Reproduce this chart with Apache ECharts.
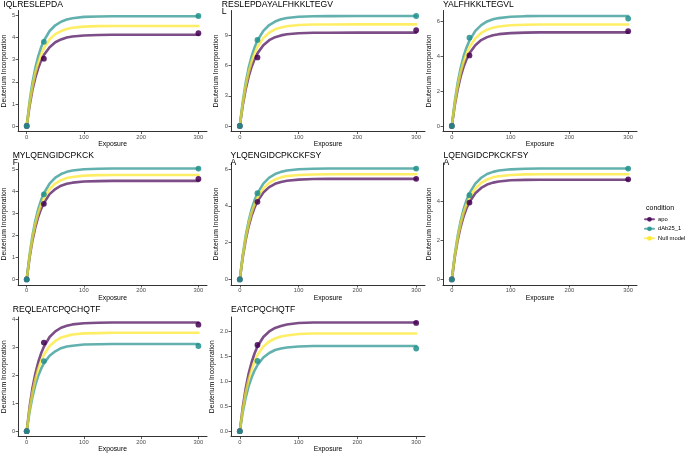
<!DOCTYPE html>
<html>
<head>
<meta charset="utf-8">
<script src="https://cdn.jsdelivr.net/npm/echarts@6/dist/echarts.min.js"></script>
<style>
html,body{margin:0;padding:0;background:#fff;}
#chart{width:685px;height:454px;}
</style>
</head>
<body>
<div id="chart"></div>
<script>
// ---------------- data ----------------
const panelTitles = [
  "IQLRESLEPDA",
  "RESLEPDAYALFHKKLTEGV\nL",
  "YALFHKKLTEGVL",
  "MYLQENGIDCPKCK\nF",
  "YLQENGIDCPKCKFSY\nA",
  "LQENGIDCPKCKFSY\nA",
  "REQLEATCPQCHQTF",
  "EATCPQCHQTF"
];
const conditions = ["apo", "dAb25_1", "Null model"];
const pointExposure = [0, 30, 300];
const apoPoints = [
  [0, 3.05, 4.20],
  [0, 6.83, 9.53],
  [0, 4.04, 5.43],
  [0, 3.43, 4.56],
  [0, 4.22, 5.47],
  [0, 3.93, 5.12],
  [0, 3.16, 3.80],
  [0, 1.72, 2.16]
];
const dAbPoints = [
  [0, 3.81, 4.98],
  [0, 8.57, 10.95],
  [0, 5.06, 6.15],
  [0, 3.86, 5.03],
  [0, 4.69, 6.03],
  [0, 4.31, 5.67],
  [0, 2.50, 3.04],
  [0, 1.40, 1.65]
];
const curveExposure = [0, 5, 10, 15, 20, 25, 30, 40, 50, 60, 70, 80, 100, 125, 150, 200, 300];
const apoCurve = [
  [0, 0.91, 1.63, 2.18, 2.61, 2.95, 3.21, 3.57, 3.79, 3.92, 4.01, 4.05, 4.10, 4.12, 4.13, 4.13, 4.13],
  [0, 2.06, 3.66, 4.91, 5.88, 6.64, 7.23, 8.04, 8.54, 8.84, 9.02, 9.13, 9.24, 9.28, 9.29, 9.30, 9.30],
  [0, 1.19, 2.11, 2.83, 3.39, 3.82, 4.16, 4.63, 4.92, 5.09, 5.20, 5.26, 5.32, 5.35, 5.36, 5.36, 5.36],
  [0, 0.99, 1.76, 2.36, 2.83, 3.19, 3.47, 3.87, 4.10, 4.25, 4.34, 4.39, 4.44, 4.46, 4.47, 4.47, 4.47],
  [0, 1.21, 2.15, 2.89, 3.46, 3.90, 4.25, 4.73, 5.02, 5.20, 5.30, 5.37, 5.43, 5.46, 5.47, 5.47, 5.47],
  [0, 1.13, 2.01, 2.69, 3.22, 3.64, 3.96, 4.41, 4.68, 4.85, 4.95, 5.01, 5.07, 5.09, 5.10, 5.10, 5.10],
  [0, 0.86, 1.53, 2.05, 2.45, 2.77, 3.01, 3.36, 3.56, 3.69, 3.76, 3.81, 3.85, 3.87, 3.88, 3.88, 3.88],
  [0, 0.48, 0.85, 1.15, 1.37, 1.55, 1.69, 1.88, 1.99, 2.06, 2.10, 2.13, 2.16, 2.17, 2.17, 2.17, 2.17]
];
const dAbCurve = [
  [0, 1.10, 1.96, 2.62, 3.14, 3.55, 3.86, 4.30, 4.56, 4.72, 4.82, 4.88, 4.94, 4.96, 4.97, 4.97, 4.97],
  [0, 2.42, 4.31, 5.78, 6.92, 7.81, 8.51, 9.47, 10.05, 10.40, 10.62, 10.75, 10.88, 10.93, 10.94, 10.95, 10.95],
  [0, 1.39, 2.48, 3.32, 3.98, 4.50, 4.89, 5.45, 5.78, 5.99, 6.11, 6.18, 6.26, 6.29, 6.30, 6.30, 6.30],
  [0, 1.11, 1.98, 2.65, 3.18, 3.59, 3.91, 4.35, 4.62, 4.78, 4.88, 4.94, 5.00, 5.02, 5.03, 5.03, 5.03],
  [0, 1.33, 2.37, 3.18, 3.81, 4.30, 4.68, 5.21, 5.54, 5.73, 5.85, 5.92, 5.99, 6.02, 6.03, 6.03, 6.03],
  [0, 1.25, 2.23, 2.99, 3.58, 4.05, 4.41, 4.90, 5.20, 5.39, 5.50, 5.57, 5.63, 5.66, 5.67, 5.67, 5.67],
  [0, 0.69, 1.22, 1.64, 1.97, 2.22, 2.42, 2.69, 2.85, 2.96, 3.02, 3.05, 3.09, 3.10, 3.11, 3.11, 3.11],
  [0, 0.38, 0.67, 0.90, 1.07, 1.21, 1.32, 1.47, 1.56, 1.62, 1.65, 1.67, 1.69, 1.70, 1.70, 1.70, 1.70]
];
const nullCurve = [
  [0, 1.00, 1.78, 2.39, 2.86, 3.23, 3.52, 3.92, 4.16, 4.30, 4.39, 4.45, 4.50, 4.52, 4.53, 4.53, 4.53],
  [0, 2.24, 3.98, 5.34, 6.40, 7.22, 7.86, 8.75, 9.29, 9.62, 9.81, 9.93, 10.05, 10.10, 10.11, 10.12, 10.12],
  [0, 1.29, 2.29, 3.07, 3.67, 4.15, 4.51, 5.02, 5.33, 5.52, 5.63, 5.70, 5.77, 5.80, 5.81, 5.81, 5.81],
  [0, 1.05, 1.87, 2.50, 3.00, 3.38, 3.68, 4.10, 4.35, 4.50, 4.60, 4.65, 4.71, 4.73, 4.74, 4.74, 4.74],
  [0, 1.27, 2.25, 3.02, 3.62, 4.08, 4.44, 4.95, 5.25, 5.44, 5.55, 5.62, 5.68, 5.71, 5.72, 5.72, 5.72],
  [0, 1.19, 2.12, 2.84, 3.40, 3.84, 4.18, 4.65, 4.94, 5.11, 5.22, 5.28, 5.34, 5.37, 5.38, 5.38, 5.38],
  [0, 0.78, 1.38, 1.85, 2.22, 2.50, 2.73, 3.04, 3.22, 3.34, 3.40, 3.45, 3.49, 3.50, 3.51, 3.51, 3.51],
  [0, 0.43, 0.77, 1.03, 1.23, 1.39, 1.52, 1.69, 1.79, 1.85, 1.89, 1.91, 1.94, 1.95, 1.95, 1.95, 1.95]
];
const yTicks = [
  [0, 1, 2, 3, 4, 5],
  [0, 3, 6, 9],
  [0, 2, 4, 6],
  [0, 1, 2, 3, 4, 5],
  [0, 2, 4, 6],
  [0, 2, 4],
  [0, 1, 2, 3, 4],
  [0, 0.5, 1, 1.5, 2]
];
const xTicks = [0, 100, 200, 300];
const xTitle = "Exposure";
const yTitle = "Deuterium Incorporation";
const legendTitle = "condition";

// ---------------- layout / style ----------------
const FONT = "Liberation Sans, Arial, sans-serif";
const colLeft = [13, 231, 443];
const colNameGap = [6.5, 11.5, 6.5];
const colWidth = 194;
const rowTop = [10.5, 163, 317];
const rowHeight = [121, 122, 121];
const titleLeft = [3.3, 221.7, 443, 12.7, 230.5, 443.5, 12.7, 231];
const titleTop = [1, 1, 1, 152.5, 152.5, 152.5, 306.5, 306.5];
const lineColors = ["#440154", "#21908C", "#FDE725"];

const grids = [], xAxes = [], yAxes = [], titles = [], lineSeries = [], pointSeries = [];
for (let i = 0; i < panelTitles.length; i++) {
  const col = i % 3, row = Math.floor(i / 3);
  grids.push({left: colLeft[col], top: rowTop[row], width: colWidth, height: rowHeight[row], containLabel: false});
  const all = apoCurve[i].concat(dAbCurve[i], nullCurve[i], apoPoints[i], dAbPoints[i]);
  const ymax = Math.max.apply(null, all);
  const ymin = Math.min.apply(null, all);
  const span = ymax - ymin;
  const frac = yTicks[i].some(v => Math.round(v) !== v);
  xAxes.push({
    type: 'value', gridIndex: i, min: -15, max: 315, position: 'bottom',
    axisLine: {show: true, onZero: false, lineStyle: {color: '#333', width: 1}},
    axisTick: {show: true, length: 2.5, customValues: xTicks, lineStyle: {color: '#333', width: 0.8}},
    axisLabel: {show: true, customValues: xTicks, margin: 2.5, fontSize: 5.8, color: '#4d4d4d', fontFamily: FONT},
    splitLine: {show: false},
    name: xTitle, nameLocation: 'middle', nameGap: 8.3,
    nameTextStyle: {fontSize: 6.8, color: '#000', fontFamily: FONT}
  });
  yAxes.push({
    type: 'value', gridIndex: i, min: ymin - 0.05 * span, max: ymax + 0.05 * span,
    axisLine: {show: true, onZero: false, lineStyle: {color: '#333', width: 1}},
    axisTick: {show: true, length: 2.5, customValues: yTicks[i], lineStyle: {color: '#333', width: 0.8}},
    axisLabel: {show: true, customValues: yTicks[i], margin: 3, fontSize: 5.8, color: '#4d4d4d', fontFamily: FONT,
      formatter: v => frac ? v.toFixed(1) : String(v)},
    splitLine: {show: false},
    name: yTitle, nameLocation: 'middle', nameRotate: 90, nameGap: colNameGap[col],
    nameTextStyle: {fontSize: 6.8, color: '#000', fontFamily: FONT}
  });
  titles.push({
    text: panelTitles[i], left: titleLeft[i], top: titleTop[i], padding: 0,
    textStyle: {fontSize: 8.6, fontWeight: 'normal', color: '#000', fontFamily: FONT, lineHeight: 7}
  });
  const curves = [apoCurve[i], dAbCurve[i], nullCurve[i]];
  curves.forEach((c, k) => {
    lineSeries.push({
      type: 'line', name: conditions[k], xAxisIndex: i, yAxisIndex: i,
      data: curveExposure.map((x, j) => [x, c[j]]),
      smooth: false, symbol: 'circle', showSymbol: false, symbolSize: 5,
      lineStyle: {color: lineColors[k], width: 2.6, opacity: 0.7, join: 'round', cap: 'round'},
      itemStyle: {color: lineColors[k], opacity: 0.85},
      emphasis: {disabled: true}, silent: true, z: 2
    });
  });
  [apoPoints[i], dAbPoints[i]].forEach((p, k) => {
    pointSeries.push({
      type: 'scatter', name: conditions[k], xAxisIndex: i, yAxisIndex: i,
      data: pointExposure.map((x, j) => [x, p[j]]),
      symbol: 'circle', symbolSize: 5.8,
      itemStyle: {color: lineColors[k], opacity: 0.85},
      emphasis: {disabled: true}, silent: true, z: 3
    });
  });
}
titles.push({
  text: legendTitle, left: 646, top: 205, padding: 0,
  textStyle: {fontSize: 7, fontWeight: 'normal', color: '#000', fontFamily: FONT}
});

const chart = echarts.init(document.getElementById('chart'), null, {renderer: 'canvas'});
chart.setOption({
  animation: false,
  backgroundColor: '#fff',
  title: titles,
  grid: grids,
  xAxis: xAxes,
  yAxis: yAxes,
  legend: {
    data: conditions, orient: 'vertical', left: 644, top: 216.3, padding: 0,
    itemWidth: 9, itemHeight: 6, itemGap: 3.5, selectedMode: false,
    textStyle: {fontSize: 5.8, color: '#000', fontFamily: FONT, padding: [0, 0, 0, -1]}
  },
  series: lineSeries.concat(pointSeries)
});
</script>
</body>
</html>
